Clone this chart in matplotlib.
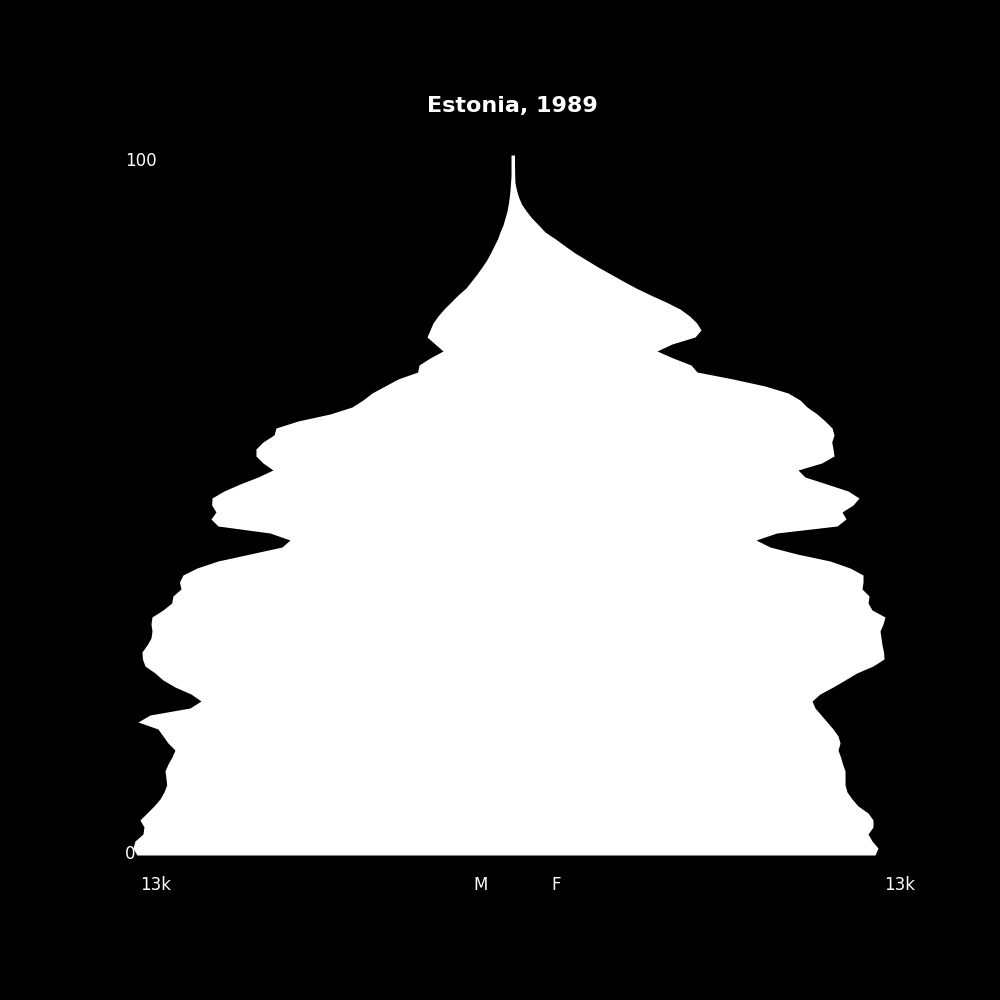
import numpy as np
import matplotlib
matplotlib.use("Agg")
import matplotlib.pyplot as plt

title = "Estonia, 1989"
ages = list(range(0, 101))

male = [13124, 13264, 13194, 12914, 12879, 13019, 12774, 12530, 12320, 12180,
        12086, 12110, 12145, 12040, 11900, 11796, 12040, 12215, 12390, 13089,
        12669, 11271, 10887, 11236, 11796, 12215, 12495, 12844, 12932, 12949,
        12774, 12634, 12599, 12634, 12599, 12215, 11911, 11866, 11586, 11638,
        11516, 11027, 10293, 9174, 8056, 7776, 8475, 10293, 10537, 10363,
        10513, 10502, 10083, 9524, 8895, 8371, 8720, 8965, 8965, 8720,
        8336, 8266, 7497, 6378, 5609, 5225, 4910, 4456, 4002, 3313,
        3268, 2883, 2429, 2709, 2988, 2883, 2779, 2604, 2394, 2149,
        1905, 1625, 1433, 1241, 1066, 902, 769, 647, 524, 437,
        332, 262, 192, 147, 112, 87, 70, 52, 52, 52, 52]

female = [12669, 12774, 12565, 12425, 12599, 12599, 12425, 12075, 11866, 11691,
          11621, 11621, 11621, 11534, 11464, 11376, 11446, 11376, 11201, 10992,
          10782, 10572, 10468, 10747, 11201, 11621, 12030, 12599, 12984, 12966,
          12914, 12879, 12844, 12949, 13019, 12565, 12425, 12460, 12215, 12250,
          12250, 11796, 11097, 9943, 9000, 8510, 9234, 11341, 11656, 11516,
          11900, 12110, 11726, 10981, 10223, 9978, 10807, 11236, 11201, 11156,
          11236, 11167, 10922, 10642, 10293, 10048, 9629, 8825, 7706, 6448,
          6239, 5609, 5050, 5575, 6378, 6588, 6438, 6187, 5854, 5365,
          4823, 4316, 3862, 3425, 2988, 2586, 2184, 1835, 1503, 1136,
          909, 671, 480, 315, 210, 140, 87, 77, 72, 70, 70]

x_tick_pos = [-13000, -1360, 1360, 13000]
x_tick_labels = ["13k", "M", "F", "13k"]
y_label_pos = [-0.64, 98.47]
y_labels = ["0", "100"]

fig = plt.figure(figsize=(10, 10), dpi=100, facecolor="black")
ax = fig.add_subplot(111)
ax.set_facecolor("black")

a = np.array(ages)
m = np.array(male)
f = np.array(female)
ax.fill_betweenx(a, -m, f, color="white", linewidth=0)

ax.set_xlim(-13542, 13542)
ax.set_ylim(-5, 105)
ax.set_xticks([])
ax.set_yticks([])
for s in ax.spines.values():
    s.set_visible(False)

for xp, lab in zip(x_tick_pos, x_tick_labels):
    ax.text(xp, -5, lab, color="white", fontsize=12, ha="left", va="baseline")
for yp, lab in zip(y_label_pos, y_labels):
    ax.text(0.0, yp, lab, color="white", fontsize=12, ha="left", va="baseline",
            transform=ax.get_yaxis_transform())

ax.set_title(title, color="white", fontsize=16, fontweight="bold")

fig.savefig("out.png", facecolor="black")
